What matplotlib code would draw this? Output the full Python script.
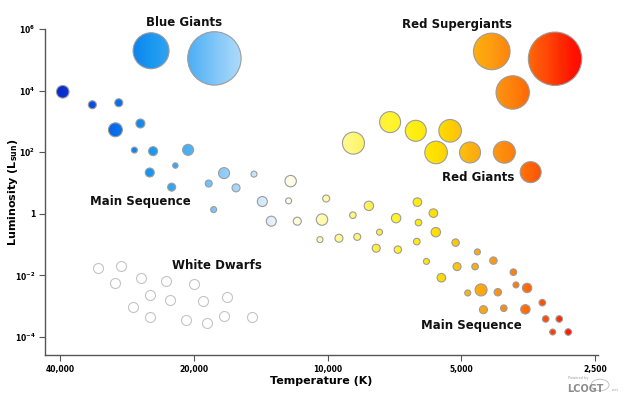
import numpy as np
import matplotlib.pyplot as plt
from matplotlib.colors import LinearSegmentedColormap
from matplotlib.path import Path
from matplotlib.transforms import Affine2D
from matplotlib.ticker import NullLocator
from matplotlib.patches import Circle

plt.rcParams['font.family'] = 'DejaVu Sans'
plt.rcParams['mathtext.default'] = 'bf'

# giants and supergiants: temperature (K), luminosity (L_sun), bubble radius (px)
giant_temp = [25000, 18000, 4270, 3075, 3830,
              8750, 7235, 6333, 5300, 5700, 4780, 4000, 3490]
giant_lum = [1.97e5, 1.11e5, 1.87e5, 1.08e5, 8.7e3,
             197, 950, 495, 495, 98, 98, 100, 22.5]
giant_rad = [18, 26.7, 18.3, 26.7, 16.7,
             11, 10.5, 10.5, 11.3, 11.3, 10.5, 11, 10.5]

# main sequence
ms_temp = [39530, 33900, 29560, 30080, 26420, 27260, 24740, 20630, 25170, 22040,
           22470, 18540, 17120, 16090, 18070, 14660, 12120, 14040, 12250, 13400,
           11710, 10300, 10080, 10410, 9434, 8580, 8778, 8078, 7645, 7776,
           7013, 6950, 6280, 6245, 5780, 5708, 6300, 5992, 5151, 5112,
           5545, 4601, 4234, 4656, 3817, 4837, 4514, 4138, 3766, 3555,
           4459, 4012, 3587, 3285, 3228, 3009, 3113, 2872]
ms_lum = [9160, 3470, 4030, 533, 855, 117, 108, 119, 21.9, 36.9,
          7.33, 9.6, 20.9, 6.95, 1.37, 19.4, 11.5, 2.5, 2.63, 0.575,
          0.575, 0.649, 3.13, 0.145, 0.161, 0.178, 0.90, 1.81, 0.253, 0.0764,
          0.721, 0.0687, 2.39, 0.519, 1.05, 0.253, 0.125, 0.0284, 0.116, 0.0193,
          0.0084, 0.0578, 0.0302, 0.0193, 0.0127, 0.00269, 0.00337, 0.00284, 0.0049, 0.00391,
          7.7e-4, 8.6e-4, 7.9e-4, 0.0013, 3.85e-4, 3.85e-4, 1.45e-4, 1.45e-4]
ms_rad = [6.3, 4, 4, 7, 4.5, 3, 4.5, 5.5, 4.5, 2.7,
          4, 3.5, 5.5, 4, 3, 3, 5.7, 5, 3, 5,
          4, 5.7, 3.5, 3, 4, 3.5, 3.3, 4.7, 3, 4,
          4.7, 3.7, 4.3, 3.3, 4.3, 4.7, 3.3, 3, 3.7, 4,
          4.3, 3, 3.7, 3.3, 3.3, 3, 6, 3.7, 3, 4.7,
          4, 3.3, 4.7, 3.3, 3.3, 3.3, 3, 3.3]

# white dwarfs
wd_temp = [32980, 29260, 30120, 26280, 23080, 20000, 25090, 22620,
           19090, 16830, 27490, 25090, 20890, 18670, 17160, 14840]
wd_lum = [0.0171, 0.0207, 0.00556, 0.00845, 0.0066, 0.00516, 0.00232, 0.00159,
          0.00151, 0.00204, 9.7e-4, 4.57e-4, 3.49e-4, 2.92e-4, 4.92e-4, 4.57e-4]
wd_rad = 5

# region labels
label_text = ['Blue Giants', 'Red Supergiants', 'Red Giants',
              'Main Sequence', 'White Dwarfs', 'Main Sequence']
label_temp = [21040, 5105, 4577, 26420, 17750, 4736]
label_lum = [1.6e6, 1.38e6, 14.7, 2.5, 0.0203, 2.28e-4]

x_ticks = [40000, 20000, 10000, 5000, 2500]
x_ticklabels = ['40,000', '20,000', '10,000', '5,000', '2,500']
y_ticks = [1e-4, 1e-2, 1, 1e2, 1e4, 1e6]
y_ticklabels = [r'$10^{-4}$', r'$10^{-2}$', '1', r'$10^{2}$', r'$10^{4}$', r'$10^{6}$']

# colour of a star by temperature
stop_temp = [43340, 39500, 34000, 30000, 27000, 25000, 22000, 20000, 18000, 16000,
             14500, 13400, 12200, 11000, 10000, 8800, 7800, 7200, 6300, 5700,
             5300, 5000, 4700, 4300, 4000, 3700, 3500, 3200, 3000, 2800, 2461]
stop_col = ['#0020c8', '#0a30d0', '#0a50e0', '#0a6ee8', '#1088ef', '#1a98f0', '#3aa8f2',
            '#58b4f5', '#80c6f8', '#a8d8fa', '#cce6fa', '#e4f0fc', '#fffde8', '#fffcc8',
            '#fffaa8', '#fff880', '#ffee40', '#fff530', '#ffee10', '#ffe000', '#ffd000',
            '#fdc010', '#fdb010', '#fda010', '#fd8c10', '#fe7a08', '#fe6608', '#fe4a08',
            '#fe3000', '#fe1500', '#ff0000']

t_left, t_right = 43340, 2461
pos = [(np.log(t_left) - np.log(t)) / (np.log(t_left) - np.log(t_right)) for t in stop_temp]
cmap = LinearSegmentedColormap.from_list('startemp', list(zip(pos, stop_col)))

fig = plt.figure(figsize=(6.24, 3.98), dpi=100)
ax = fig.add_axes([45 / 624, 43 / 398, 553 / 624, 326 / 398])
ax.set_xscale('log')
ax.set_yscale('log')
ax.set_xlim(t_left, t_right)
ax.set_ylim(10 ** -4.585, 1e6)

# gradient fill clipped to the coloured bubbles
all_t = giant_temp + ms_temp
all_l = giant_lum + ms_lum
all_r = giant_rad + ms_rad
bb = ax.get_window_extent()
w_px, h_px = bb.width, bb.height
to_axes = ax.transData + ax.transAxes.inverted()
paths = []
for t, l, r in zip(all_t, all_l, all_r):
    xa, ya = to_axes.transform((t, l))
    paths.append(Path.unit_circle().transformed(
        Affine2D().scale(r / w_px, r / h_px).translate(xa, ya)))
clip = Path.make_compound_path(*paths)

grad = np.linspace(0, 1, 800).reshape(1, -1)
im = ax.imshow(grad, extent=[0, 1, 0, 1], transform=ax.transAxes, aspect='auto',
               cmap=cmap, vmin=0, vmax=1, interpolation='bilinear', zorder=2)
im.set_clip_path(clip, ax.transAxes)
ax.set_xlim(t_left, t_right)
ax.set_ylim(10 ** -4.585, 1e6)

# outlines
ax.scatter(all_t, all_l, s=[(2 * r * 0.72) ** 2 for r in all_r], facecolors='none',
           edgecolors='#9c9c9c', linewidths=0.8, zorder=3)
ax.scatter(wd_temp, wd_lum, s=(2 * wd_rad * 0.72) ** 2, facecolors='white',
           edgecolors='#c4c4c4', linewidths=0.8, zorder=3)

for txt, t, l in zip(label_text, label_temp, label_lum):
    ax.text(t, l, txt, ha='center', va='center', fontsize=8.5, fontweight='bold',
            color='#111111', clip_on=False, zorder=4)

ax.set_xticks(x_ticks)
ax.set_xticklabels(x_ticklabels)
ax.set_yticks(y_ticks)
ax.set_yticklabels(y_ticklabels)
ax.xaxis.set_minor_locator(NullLocator())
ax.yaxis.set_minor_locator(NullLocator())
ax.tick_params(direction='out', length=4, width=0.8, color='#555555',
               labelsize=5.5, pad=3)
for lab in ax.get_xticklabels() + ax.get_yticklabels():
    lab.set_fontweight('bold')

for s in ['top', 'right']:
    ax.spines[s].set_visible(False)
for s in ['left', 'bottom']:
    ax.spines[s].set_color('#555555')
    ax.spines[s].set_linewidth(1)

ax.set_xlabel('Temperature (K)', fontsize=8, fontweight='bold')
ax.set_ylabel(r'Luminosity (L$_{sun}$)', fontsize=8, fontweight='bold')
ax.xaxis.set_label_coords(0.5, -0.064)
ax.yaxis.set_label_coords(-0.045, 0.5)

# logo
fig.text(568 / 624, 1 - 379 / 398, 'Powered by', fontsize=2.5, color='#999999')
fig.text(567 / 624, 1 - 389 / 398, 'LCOGT', fontsize=7, fontweight='bold',
         color='#8c8c8c', va='center')
fig.text(612 / 624, 1 - 391 / 398, '.net', fontsize=2.5, color='#999999')
fig.patches.append(Circle((600 / 624, 1 - 385 / 398), 9 / 624, transform=fig.transFigure,
                          fill=False, edgecolor='#bbbbbb', linewidth=0.6))

fig.savefig('out.png', dpi=100)
